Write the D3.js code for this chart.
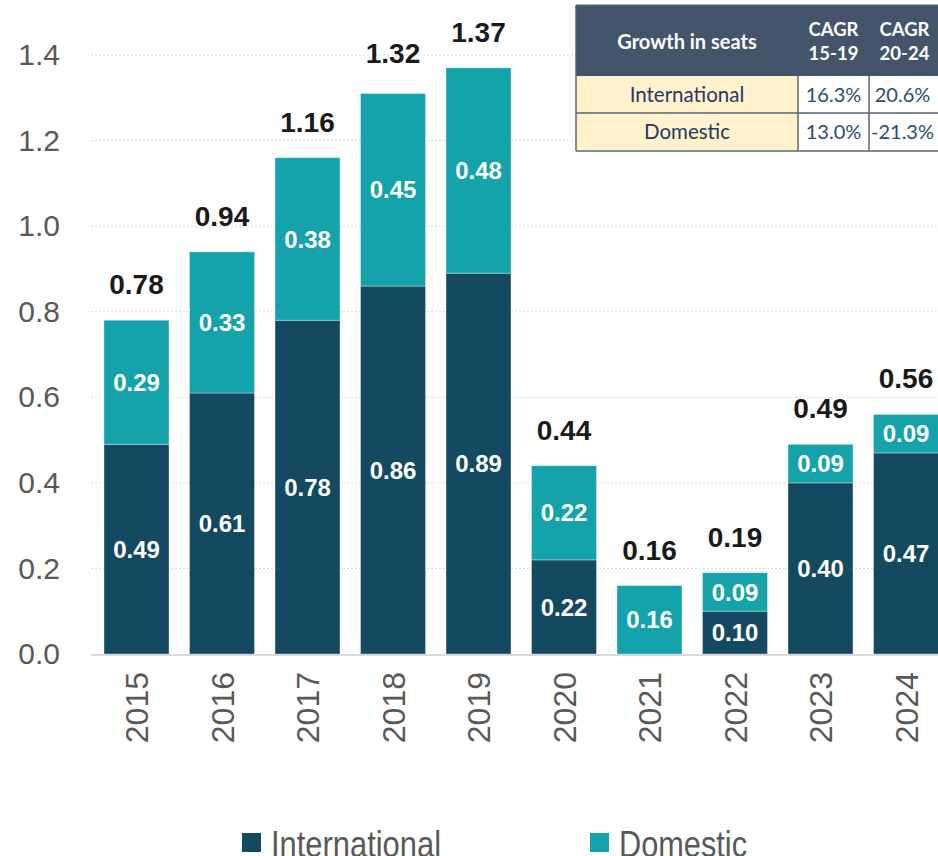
<!DOCTYPE html>
<html>
<head>
<meta charset="utf-8">
<script src="https://cdn.jsdelivr.net/npm/d3@7"></script>
<style>
  body { margin: 0; background: #fff; }
  svg { display: block; }
</style>
</head>
<body>
<div id="container"></div>
<script>
let w = 938;
let h = 856;

// data
let years = ["2015", "2016", "2017", "2018", "2019", "2020", "2021", "2022", "2023", "2024"];
let international = [0.49, 0.61, 0.78, 0.86, 0.89, 0.22, 0, 0.10, 0.40, 0.47];
let domestic = [0.29, 0.33, 0.38, 0.45, 0.48, 0.22, 0.16, 0.09, 0.09, 0.09];
let totals = [0.78, 0.94, 1.16, 1.32, 1.37, 0.44, 0.16, 0.19, 0.49, 0.56];
let yTicks = [0, 0.2, 0.4, 0.6, 0.8, 1.0, 1.2, 1.4];
let seriesNames = ["International", "Domestic"];
let colors = ["#134A62", "#14A3AA"];

// table
let tableHeader = ["Growth in seats", "CAGR\n15-19", "CAGR\n20-24"];
let tableRows = ["International", "Domestic"];
let cagr1519 = ["16.3%", "13.0%"];
let cagr2024 = ["20.6%", "-21.3%"];

let data = years.map(function(y, i){
  return {year: y, International: international[i], Domestic: domestic[i], total: totals[i]};
});

let viz = d3.select("#container")
  .append("svg")
    .attr("width", w)
    .attr("height", h)
;

let xScale = d3.scaleBand()
    .domain(years)
    .range([93.75, 948.75])
    .paddingInner(0.24)
    .paddingOuter(0.12)
;
let yScale = d3.scaleLinear().domain([0, 1.4]).range([654, 55]);

// gridlines
viz.append("g").selectAll("line").data(yTicks.slice(1)).enter()
  .append("line")
    .attr("x1", 91).attr("x2", w)
    .attr("y1", d => yScale(d)).attr("y2", d => yScale(d))
    .attr("stroke", "#d9d9d9")
    .attr("stroke-width", 1)
    .attr("stroke-dasharray", "2,2")
;

// y axis
let yAxis = d3.axisLeft(yScale).tickValues(yTicks).tickFormat(d3.format(".1f")).tickSize(0).tickPadding(0);
let yAxisGroup = viz.append("g").attr("transform", "translate(60,0)").call(yAxis);
yAxisGroup.select(".domain").remove();
yAxisGroup.selectAll("text")
  .attr("font-family", "Liberation Sans, Arial, sans-serif")
  .attr("font-size", 30)
  .attr("fill", "#595959");

// stacked bars
let stack = d3.stack().keys(seriesNames);
let stacked = stack(data);

let graphGroup = viz.append("g").classed("graphGroup", true);
let layers = graphGroup.selectAll(".layer").data(stacked).enter()
  .append("g").classed("layer", true)
  .attr("fill", (d, i) => colors[i]);

layers.selectAll("rect").data(d => d.filter(p => p[1] - p[0] > 0)).enter()
  .append("rect")
    .attr("x", d => xScale(d.data.year))
    .attr("width", xScale.bandwidth())
    .attr("y", d => yScale(d[1]))
    .attr("height", d => yScale(d[0]) - yScale(d[1]))
    .attr("stroke", "#ffffff")
    .attr("stroke-opacity", 0.35)
    .attr("stroke-width", 1)
;

// segment labels
layers.selectAll("text").data(d => d.filter(p => p[1] - p[0] > 0)).enter()
  .append("text")
    .attr("x", d => xScale(d.data.year) + xScale.bandwidth() / 2)
    .attr("y", d => (yScale(d[0]) + yScale(d[1])) / 2)
    .attr("dy", "0.36em")
    .attr("text-anchor", "middle")
    .attr("font-family", "Liberation Sans, Arial, sans-serif")
    .attr("font-weight", "bold")
    .attr("font-size", 24)
    .attr("fill", "#ffffff")
    .text(d => (d[1] - d[0]).toFixed(2))
;

// total labels
graphGroup.selectAll(".total").data(data).enter()
  .append("text").classed("total", true)
    .attr("x", d => xScale(d.year) + xScale.bandwidth() / 2)
    .attr("y", d => yScale(d.total) - 26)
    .attr("text-anchor", "middle")
    .attr("font-family", "Liberation Sans, Arial, sans-serif")
    .attr("font-weight", "bold")
    .attr("font-size", 28)
    .attr("fill", "#1a1a1a")
    .text(d => d.total.toFixed(2))
;

// baseline
viz.append("line")
  .attr("x1", 91).attr("x2", w)
  .attr("y1", yScale(0) + 1).attr("y2", yScale(0) + 1)
  .attr("stroke", "#d9d9d9").attr("stroke-width", 2);

// x axis
let xAxis = d3.axisBottom(xScale).tickSize(0).tickPadding(0);
let xAxisGroup = viz.append("g").attr("transform", "translate(0,672)").call(xAxis);
xAxisGroup.select(".domain").remove();
xAxisGroup.selectAll("text")
  .attr("font-family", "Liberation Sans, Arial, sans-serif")
  .attr("font-size", 32)
  .attr("fill", "#595959")
  .attr("transform", "rotate(-90)")
  .attr("text-anchor", "end")
  .attr("x", 0)
  .attr("y", 0)
  .attr("dy", "0.36em")
;

// legend (narrow face squeezed to the widths seen in the picture)
let legendX = [242, 590];
let legendLen = [170, 128];
let legend = viz.append("g").selectAll("g").data(seriesNames).enter()
  .append("g").attr("transform", (d, i) => "translate(" + legendX[i] + ",833)");
legend.append("rect").attr("width", 19).attr("height", 19).attr("fill", (d, i) => colors[i]);
legend.append("text")
  .attr("x", 29).attr("y", 24)
  .attr("font-family", "Liberation Sans, Arial, sans-serif")
  .attr("font-size", 37)
  .attr("fill", "#595959")
  .attr("textLength", (d, i) => legendLen[i])
  .attr("lengthAdjust", "spacingAndGlyphs")
  .text(d => d);

// table
let tbl = viz.append("g").classed("table", true);
let colX = [576, 798, 869, 940];
let rowY = [5, 76, 113, 151];
let tFont = "Lato, Open Sans, sans-serif";

tbl.append("rect").attr("x", colX[0]).attr("y", rowY[0]).attr("width", colX[3] - colX[0]).attr("height", rowY[1] - rowY[0]).attr("fill", "#44546A");
tableHeader.forEach(function(t, i){
  let cx = (colX[i] + colX[i + 1]) / 2;
  let lines = t.split("\n");
  let txt = tbl.append("text")
    .attr("text-anchor", "middle")
    .attr("font-family", tFont)
    .attr("font-weight", "bold")
    .attr("font-size", i == 0 ? 20 : 18.5)
    .attr("fill", "#ffffff");
  lines.forEach(function(l, j){
    txt.append("tspan").attr("x", cx)
      .attr("y", lines.length == 1 ? 49 : 36 + j * 24)
      .text(l);
  });
});

tableRows.forEach(function(r, i){
  let y0 = rowY[i + 1], y1 = rowY[i + 2];
  tbl.append("rect").attr("x", colX[0]).attr("y", y0).attr("width", colX[1] - colX[0]).attr("height", y1 - y0).attr("fill", "#FFF2CC");
  tbl.append("rect").attr("x", colX[1]).attr("y", y0).attr("width", colX[3] - colX[1]).attr("height", y1 - y0).attr("fill", "#ffffff");
  tbl.append("text").attr("x", (colX[0] + colX[1]) / 2).attr("y", (y0 + y1) / 2).attr("dy", "0.36em")
    .attr("text-anchor", "middle").attr("font-family", tFont).attr("font-size", 20.5).attr("fill", "#1F3864").text(r);
  tbl.append("text").attr("x", (colX[1] + colX[2]) / 2).attr("y", (y0 + y1) / 2).attr("dy", "0.36em")
    .attr("text-anchor", "middle").attr("font-family", tFont).attr("font-size", 20).attr("fill", "#1F4E79").text(cagr1519[i]);
  tbl.append("text").attr("x", (colX[2] + colX[3]) / 2 - 2).attr("y", (y0 + y1) / 2).attr("dy", "0.36em")
    .attr("text-anchor", "middle").attr("font-family", tFont).attr("font-size", 20).attr("fill", "#1F4E79").text(cagr2024[i]);
});

// table grid lines
let gridColor = "#5a6577";
[rowY[2], rowY[3]].forEach(function(y){
  tbl.append("line").attr("x1", colX[0]).attr("x2", colX[3]).attr("y1", y).attr("y2", y).attr("stroke", gridColor).attr("stroke-width", 1.5);
});
[colX[0], colX[1], colX[2]].forEach(function(x, i){
  tbl.append("line").attr("x1", x).attr("x2", x).attr("y1", i == 0 ? rowY[0] : rowY[1]).attr("y2", rowY[3]).attr("stroke", gridColor).attr("stroke-width", 1.5);
});
tbl.append("line").attr("x1", colX[0]).attr("x2", colX[3]).attr("y1", rowY[0]).attr("y2", rowY[0]).attr("stroke", gridColor).attr("stroke-width", 1);
</script>
</body>
</html>
